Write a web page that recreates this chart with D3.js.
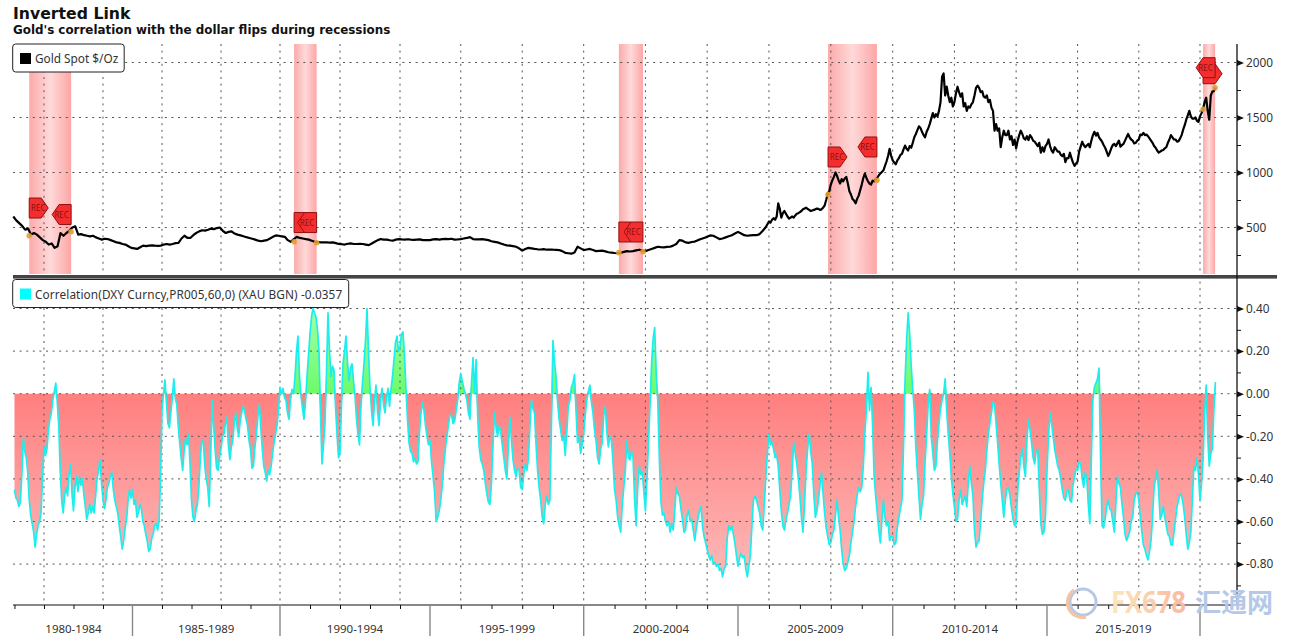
<!DOCTYPE html>
<html><head><meta charset="utf-8">
<script src="https://cdn.jsdelivr.net/npm/d3@7"></script>
<style>
html,body{margin:0;padding:0;background:#fff}
svg{display:block}
text{font-family:"Noto Sans",sans-serif;fill:#333}
</style></head><body>
<svg id="c" width="1292" height="638"></svg>
<script>
const titleText="Inverted Link";
const subtitleText="Gold's correlation with the dollar flips during recessions";
const goldLegend="Gold Spot $/Oz";
const corrLegend="Correlation(DXY Curncy,PR005,60,0) (XAU BGN) -0.0357";

// Gold, one value per 0.1 year from 1981
const gold1981=[600,565,540,515,480,490,435,450,435,410,385,370,345,355,315,330,450,425,450,470,500,510,435,440,430,425,420,425,410,400,390,398,395,385,375,365,360,350,345,330,
315,310,305,320,335,330,335,338,335,333,335,345,350,345,350,358,360,400,425,405,405,430,450,465,475,472,480,490,485,495,500,470,450,460,465,445,435,428,420,412,
405,398,390,380,375,380,385,400,415,428,425,420,415,385,370,395,415,405,400,395,390,380,370,368,365,366,365,363,365,358,350,348,345,352,355,350,350,352,350,345,
340,355,370,385,395,390,390,384,380,390,395,392,390,393,390,388,390,392,385,386];
// Gold, one value per 0.1 year from 1995
const gold1995=[385,392,395,390,395,397,395,398,390,392,395,400,405,412,395,392,392,394,390,385,375,370,365,355,345,338,335,330,325,310,290,305,315,310,305,302,300,303,298,300,
298,297,295,285,270,266,262,272,325,310,295,300,305,295,285,288,290,283,275,272,268,266,270,278,285,282,285,292,298,290,285,295,305,315,325,322,320,324,325,335,
350,385,380,365,360,368,372,385,395,405,415,428,425,410,395,400,410,420,430,445,460,445,430,425,428,430,430,440,470,505];
// Gold, one value per 0.05 year from 2006
const gold2006=[555,545,570,585,570,600,719,670,590,630,650,625,600,580,590,600,590,610,625,630,640,650,665,672,680,670,660,650,655,660,665,672,670,660,665,680,700,750,810,830];
// Gold, one value per 0.05 year from 2008
const gold2008=[890,930,960,1000,970,930,900,940,920,945,960,900,830,800,760,745,720,760,790,840,
890,950,990,950,920,900,890,925,920,940,950,975,990,1005,1020,1060,1100,1150,1215,1150,
1110,1090,1075,1110,1130,1160,1170,1210,1245,1215,1200,1240,1225,1270,1320,1350,1385,1420,1405,1370,
1340,1320,1370,1400,1440,1490,1540,1500,1530,1510,1560,1640,1870,1900,1700,1780,1700,1640,1680,1600,
1640,1720,1780,1730,1690,1720,1600,1630,1560,1600,1590,1620,1640,1700,1770,1790,1770,1730,1740,1690,
1680,1700,1640,1660,1590,1560,1380,1440,1380,1400,1230,1320,1380,1340,1340,1380,1300,1330,1250,1300,
1220,1290,1340,1380,1350,1310,1300,1330,1295,1340,1320,1290,1280,1260,1240,1270,1180,1230,1190,1240,
1260,1300,1240,1200,1180,1230,1210,1190,1190,1160,1150,1170,1095,1130,1130,1180,1130,1090,1060,1080,
1100,1190,1235,1280,1250,1230,1245,1260,1230,1290,1340,1370,1335,1360,1320,1300,1280,1250,1225,1190,
1150,1180,1220,1250,1260,1240,1265,1290,1235,1250,1260,1290,1320,1350,1320,1300,1290,1265,1270,1290,
1300,1345,1340,1360,1340,1345,1330,1310,1290,1270,1240,1225,1200,1180,1190,1200,1205,1220,1230,1270,
1300,1340,1320,1300,1300,1280,1285,1310,1340,1390,1430,1480,1520,1560,1510,1490,1490,1500,1470,1460,
1510,1540,1580,1640,1680,1560,1480,1700,1735,1740,1770];

// Correlation, one value per 0.05 year
const corr1981=[-.45,-.49,-.50,-.53,-.51,-.38,-.21,-.27,-.30,-.37,-.50,-.57,-.61,-.65,-.72,-.66,-.62,-.60,-.56,-.40,
-.25,-.29,-.26,-.17,-.12,-.09,-.03,.01,.05,-.04,-.15,-.36,-.50,-.56,-.48,-.44,-.48,-.38,-.33,-.47,
-.55,-.44,-.39,-.46,-.39,-.43,-.40,-.47,-.53,-.59,-.56,-.52,-.56,-.53,-.56,-.48,-.40,-.36,-.31,-.42,
-.50,-.54,-.50,-.44,-.42,-.39,-.37,-.45,-.50,-.53,-.56,-.62,-.67,-.73,-.69,-.63,-.59,-.50,-.45,-.49];
const corr1985=[-.45,-.52,-.50,-.58,-.56,-.52,-.54,-.60,-.62,-.66,-.69,-.74,-.73,-.68,-.66,-.62,-.61,-.64,-.60,-.40,
-.08,.00,.065,-.04,-.14,-.16,-.09,-.02,.07,-.02,-.05,-.15,-.23,-.30,-.36,-.27,-.21,-.24,-.19,-.33,
-.50,-.58,-.60,-.55,-.52,-.44,-.30,-.22,-.22,-.34,-.40,-.44,-.53,-.30,-.03,-.15,-.26,-.35,-.36,-.30,
-.26,-.20,-.19,-.14,-.11,-.24,-.31,-.25,-.22,-.14,-.09,-.16,-.20,-.13,-.09,-.06,-.08,-.12,-.15,-.22,
-.26,-.35,-.34,-.25,-.19,-.11,-.05,-.16,-.26,-.34,-.37,-.41,-.36,-.38,-.34,-.28,-.23,-.19,-.15,-.08];
const corr1990=[.03,.00,.025,-.02,-.03,-.09,-.12,-.03,.02,.00,.08,.20,.27,.08,-.01,-.07,-.12,-.04,.08,.18,
.28,.36,.40,.38,.36,.30,.20,-.10,-.33,-.24,-.14,.10,.38,.20,.08,.13,.11,-.06,-.19,-.30,
-.28,-.05,.14,.20,.27,.15,.06,.12,.14,.06,-.01,-.12,-.19,-.24,-.06,.05,.14,.25,.40,.20,
.03,-.08,-.15,-.04,.04,-.08,-.15,-.04,.025,-.05,-.09,-.02,.025,-.06,.02,.08,.16,.24,.27,.20,
.22,.28,.29,.18,.02,-.12,-.23,-.27,-.28,-.32,-.30,-.33,-.32,-.18,-.09,-.04,-.08,-.15,-.20,-.24];
const corr1995=[-.22,-.32,-.39,-.46,-.60,-.58,-.55,-.50,-.43,-.33,-.26,-.20,-.15,-.10,-.10,-.14,-.13,-.08,-.03,.05,
.095,.06,.025,.00,-.03,-.09,-.12,.05,.17,.00,.16,-.10,-.25,-.31,-.33,-.36,-.42,-.47,-.51,-.52,
-.42,-.24,-.09,-.16,-.20,-.15,-.18,-.24,-.30,-.36,-.40,-.25,-.11,-.22,-.31,-.36,-.39,-.35,-.36,-.44,
-.45,-.38,-.33,-.36,-.31,-.16,-.03,-.07,-.09,-.24,-.36,-.44,-.50,-.58,-.61,-.52,-.48,-.52,-.50,-.15,
.25,.15,.08,-.04,-.12,-.17,-.22,-.20,-.29,-.18,-.06,-.03,.03,.05,.09,-.08,-.23,-.20,-.28,-.24];
const corr2000=[-.19,-.10,-.03,.01,.04,-.04,-.09,-.17,-.22,-.30,-.33,-.26,-.23,-.10,-.06,-.18,-.25,-.20,-.22,-.32,
-.45,-.50,-.58,-.62,-.65,-.52,-.44,-.36,-.22,-.30,-.31,-.27,-.30,-.50,-.62,-.44,-.34,-.38,-.37,-.46,
-.55,-.40,-.23,-.05,.14,.26,.31,.10,-.03,-.30,-.50,-.57,-.56,-.60,-.62,-.60,-.65,-.61,-.64,-.55,
-.44,-.47,-.48,-.54,-.59,-.65,-.64,-.57,-.55,-.60,-.59,-.64,-.69,-.63,-.59,-.55,-.53,-.62,-.67,-.70,
-.73,-.76,-.78,-.76,-.80,-.79,-.81,-.80,-.83,-.82,-.86,-.82,-.81,-.68,-.62,-.64,-.62,-.66,-.70,-.76];
const corr2005=[-.81,-.77,-.75,-.77,-.76,-.82,-.86,-.81,-.76,-.62,-.50,-.48,-.50,-.53,-.56,-.62,-.64,-.52,-.39,-.28,
-.19,-.24,-.23,-.26,-.30,-.29,-.34,-.45,-.55,-.62,-.64,-.59,-.56,-.52,-.48,-.36,-.23,-.28,-.33,-.40,
-.48,-.58,-.65,-.52,-.36,-.26,-.19,-.27,-.33,-.47,-.58,-.55,-.50,-.43,-.37,-.47,-.56,-.63,-.67,-.71,
-.70,-.66,-.64,-.57,-.50,-.58,-.64,-.73,-.80,-.83,-.82,-.79,-.76,-.70,-.65,-.60,-.53,-.48,-.44,-.46,
-.44,-.34,-.19,-.08,.10,-.08,.03,-.15,-.39,-.48,-.56,-.64,-.70,-.60,-.50,-.58,-.62,-.60,-.69,-.67];
const corr2010=[-.67,-.71,-.70,-.63,-.58,-.54,-.50,-.25,.06,.25,.38,.28,.13,.02,-.08,-.25,-.37,-.48,-.59,-.52,
-.48,-.32,-.19,-.05,.02,-.20,-.28,-.36,-.34,-.22,-.14,-.07,-.03,.00,.07,-.08,-.19,-.28,-.39,-.47,
-.53,-.60,-.59,-.50,-.45,-.52,-.50,-.48,-.53,-.42,-.34,-.42,-.48,-.64,-.72,-.70,-.69,-.60,-.50,-.42,
-.36,-.27,-.19,-.14,-.09,-.04,-.05,-.14,-.23,-.33,-.42,-.50,-.58,-.50,-.45,-.44,-.48,-.54,-.59,-.62,
-.61,-.46,-.37,-.30,-.26,-.34,-.39,-.22,-.12,-.17,-.23,-.30,-.33,-.27,-.26,-.45,-.61,-.66,-.65,-.58];
const corr2015=[-.36,-.20,-.09,-.14,-.20,-.26,-.30,-.34,-.36,-.40,-.45,-.49,-.50,-.46,-.45,-.50,-.51,-.43,-.39,-.35,
-.36,-.32,-.33,-.40,-.44,-.37,-.40,-.52,-.61,-.30,-.03,.03,.05,.07,.12,-.30,-.62,-.63,-.59,-.53,
-.50,-.54,-.55,-.60,-.65,-.52,-.39,-.42,-.44,-.52,-.58,-.66,-.69,-.67,-.65,-.60,-.58,-.50,-.47,-.46,
-.50,-.58,-.65,-.71,-.73,-.76,-.78,-.74,-.69,-.58,-.44,-.40,-.36,-.46,-.59,-.57,-.53,-.58,-.62,-.66,
-.67,-.71,-.71,-.65,-.59,-.53,-.50,-.47,-.48,-.52,-.58,-.66,-.73,-.70,-.65,-.50,-.34,-.36,-.30,-.38];
const corr2020=[-.50,-.42,-.31,-.10,.04,-.20,-.34,-.28,-.26,-.08,.055];

// Recessions, decimal years
const recStart=[1981.5,1990.47,2001.14,2007.91,2020.1];
const recEnd=[1982.92,1991.22,2001.92,2009.49,2020.49];
// Flag heights in gold units
const flagStartLevel=[677,545,459,1141,1898];
const flagEndLevel=[618,545,459,1232,1953];
// A start flag's label is hidden when the end flag covers it
const startLabelShown=[true,false,false,true,false];
// Gold price at the recession start/end markers
const markStart=[425,370,272,800,1575];
const markEnd=[462,362,280,930,1770];

const goldTicks=[500,1000,1500,2000];
const goldMinor=[250,750,1250,1750];
const corrTicks=[.4,.2,0,-.2,-.4,-.6,-.8];
const corrMinor=[.3,.1,-.1,-.3,-.5,-.7,-.9];
const gridYears=[1982,1984,1986,1988,1990,1992,1994,1996,1998,2000,2002,2004,2006,2008,2010,2012,2014,2016,2018,2020];
const minorYears=[1981,1982,1983,1984,1986,1987,1988,1989,1991,1992,1993,1994,1996,1997,1998,1999,2001,2002,2003,2004,2006,2007,2008,2009,2011,2012,2013,2014,2016,2017,2018,2019,2021];
const sepYears=[1985,1990,1995,2000,2005,2010,2015,2020];
const periodLabels=["1980-1984","1985-1989","1990-1994","1995-1999","2000-2004","2005-2009","2010-2014","2015-2019"];
const periodCentres=[1983,1987.5,1992.5,1997.5,2002.5,2007.5,2012.5,2017.5];

const seq=(base,step,vals)=>vals.map((v,i)=>({t:base+i*step,v}));
const gold=[...seq(1980.96,.1,gold1981),...seq(1995,.1,gold1995),...seq(2006,.05,gold2006),...seq(2008,.05,gold2008)];
const corr=[...seq(1981,.05,corr1981),...seq(1985,.05,corr1985),...seq(1990,.05,corr1990),...seq(1995,.05,corr1995),
 ...seq(2000,.05,corr2000),...seq(2005,.05,corr2005),...seq(2010,.05,corr2010),...seq(2015,.05,corr2015),...seq(2020,.05,corr2020)];

const L=13,R=1237,T1=44,B1=274,B2=605;
const x=d3.scaleLinear()
 .domain([1980.95,1985,1990,1995,2000,2005,2010,2015,2020,2021.2])
 .range([L,132.5,280,430,583.7,738,892.7,1047,1200,R]);
const yG=d3.scaleLinear().domain([0,2000]).range([282.5,62.5]);
const yC=d3.scaleLinear().domain([0,.4]).range([393.7,308.5]);

const svg=d3.select("#c");
const defs=svg.append("defs");
const band=defs.append("linearGradient").attr("id","band");
[[0,"#fbaaaa"],[.5,"#ffd9d9"],[1,"#fda6a6"]].forEach(s=>band.append("stop").attr("offset",s[0]).attr("stop-color",s[1]));
const red=defs.append("linearGradient").attr("id","red").attr("gradientUnits","userSpaceOnUse")
 .attr("x1",0).attr("x2",0).attr("y1",yC(0)).attr("y2",yC(-.86));
[[0,"#ff7f7f"],[1,"#fdb8b8"]].forEach(s=>red.append("stop").attr("offset",s[0]).attr("stop-color",s[1]));
const green=defs.append("linearGradient").attr("id","green").attr("gradientUnits","userSpaceOnUse")
 .attr("x1",0).attr("x2",0).attr("y1",yC(0)).attr("y2",yC(.4));
[[0,"#6cfb6c"],[1,"#a4ffa4"]].forEach(s=>green.append("stop").attr("offset",s[0]).attr("stop-color",s[1]));
const wmGrad=defs.append("linearGradient").attr("id","wm");
[[0,"#fde6bd"],[1,"#f8b9a0"]].forEach(s=>wmGrad.append("stop").attr("offset",s[0]).attr("stop-color",s[1]));

// recession bands
svg.append("g").selectAll("rect").data(recStart).join("rect")
 .attr("x",d=>x(d)).attr("width",(d,i)=>x(recEnd[i])-x(d)).attr("y",T1).attr("height",B1-T1).attr("fill","url(#band)");

// correlation areas
const areaNeg=d3.area().x(d=>x(d.t)).y0(yC(0)).y1(d=>yC(Math.min(d.v,0)));
const areaPos=d3.area().x(d=>x(d.t)).y0(yC(0)).y1(d=>yC(Math.max(d.v,0)));
svg.append("path").datum(corr).attr("d",areaNeg).attr("fill","url(#red)");
svg.append("path").datum(corr).attr("d",areaPos).attr("fill","url(#green)");

// grid
const grid=svg.append("g").attr("stroke","#555").attr("stroke-width",1).attr("stroke-dasharray","2 4.6").attr("fill","none");
goldTicks.forEach(v=>grid.append("line").attr("x1",L).attr("x2",R).attr("y1",yG(v)).attr("y2",yG(v)));
corrTicks.forEach(v=>grid.append("line").attr("x1",L).attr("x2",R).attr("y1",yC(v)).attr("y2",yC(v)));
gridYears.forEach(t=>grid.append("line").attr("x1",x(t)).attr("x2",x(t)).attr("y1",T1).attr("y2",B2));

// series
svg.append("path").datum(corr).attr("fill","none").attr("stroke","#1ceeee").attr("stroke-width",1.7).attr("stroke-linejoin","round")
 .attr("d",d3.line().x(d=>x(d.t)).y(d=>yC(d.v)));
svg.append("path").datum(gold).attr("fill","none").attr("stroke","#000").attr("stroke-width",2.2).attr("stroke-linejoin","round")
 .attr("d",d3.line().x(d=>x(d.t)).y(d=>yG(d.v)));

// recession markers
const marks=svg.append("g").attr("fill","#e0a030").attr("opacity",.9);
recStart.forEach((t,i)=>{
 marks.append("circle").attr("cx",x(t)).attr("cy",yG(markStart[i])).attr("r",2.8);
 marks.append("circle").attr("cx",x(recEnd[i])).attr("cy",yG(markEnd[i])).attr("r",2.8);
});
function flag(px,py,dir,showLabel){
 const g=svg.append("g").attr("transform",`translate(${px},${py})`);
 const p=dir>0?"M0,-10H12L19,0L12,10H0Z":"M0,-10H-12L-19,0L-12,10H0Z";
 g.append("path").attr("d",p).attr("fill","#f42e2e").attr("stroke","#8e1212").attr("stroke-width",1);
 if(showLabel) g.append("text").attr("x",dir>0?9:-9.5).attr("y",3).attr("text-anchor","middle").attr("font-size",8).style("fill","#8e1010").text("REC");
}
recStart.forEach((t,i)=>{
 flag(x(t),yG(flagStartLevel[i]),1,startLabelShown[i]);
 flag(x(recEnd[i]),yG(flagEndLevel[i]),-1,true);
});

// panel separator
svg.append("rect").attr("x",L).attr("y",275).attr("width",1264).attr("height",3.6).attr("fill","#444");

// bottom axis
const axB=svg.append("g").attr("transform",`translate(0,${B2})`)
 .call(d3.axisBottom(x).tickValues(minorYears).tickSize(4).tickFormat(""));
axB.selectAll("path").remove();
axB.selectAll("line").attr("stroke","#111");
svg.append("line").attr("x1",L).attr("x2",R).attr("y1",B2).attr("y2",B2).attr("stroke","#111").attr("stroke-width",1.2);
svg.append("g").selectAll("line").data(sepYears).join("line")
 .attr("x1",d=>x(d)).attr("x2",d=>x(d)).attr("y1",B2).attr("y2",636).attr("stroke","#888").attr("stroke-width",1.4);
svg.append("g").selectAll("text").data(periodLabels).join("text")
 .attr("x",(d,i)=>x(periodCentres[i])).attr("y",633).attr("text-anchor","middle").attr("font-size",11.5).text(d=>d);

// right axes
svg.append("line").attr("x1",R).attr("x2",R).attr("y1",T1).attr("y2",B2).attr("stroke","#111").attr("stroke-width",1.3);
function rightAxis(scale,major,minor,fmt){
 const a=svg.append("g").attr("transform",`translate(${R},0)`)
  .call(d3.axisRight(scale).tickValues(major).tickSize(0).tickPadding(9).tickFormat(fmt));
 a.select("path").remove();
 a.selectAll("text").attr("font-size",11.8).attr("font-family",null).style("font-family",'"Noto Sans",sans-serif').style("fill","#333");
 a.selectAll(".tick").append("path").attr("d","M0,-3L7,0L0,3Z").attr("fill","#111");
 const m=svg.append("g").attr("transform",`translate(${R},0)`)
  .call(d3.axisRight(scale).tickValues(minor).tickSize(4).tickFormat(""));
 m.select("path").remove();
 m.selectAll("line").attr("stroke","#111");
}
rightAxis(yG,goldTicks,goldMinor,d3.format("d"));
rightAxis(yC,corrTicks,corrMinor,d=>d3.format(".2f")(d).replace("\u2212","-"));

// titles
svg.append("text").attr("x",L).attr("y",19).style("font-family",'"DejaVu Sans",sans-serif').style("font-weight",700).style("fill","#111").attr("font-size",15.7).text(titleText);
svg.append("text").attr("x",L).attr("y",34).style("font-family",'"DejaVu Sans",sans-serif').style("font-weight",700).style("fill","#111").attr("font-size",11.9).text(subtitleText);

// legends
function legend(y,w,col,txt,spacing){
 svg.append("rect").attr("x",12.7).attr("y",y).attr("width",w).attr("height",28).attr("rx",3).attr("fill","#fff").attr("stroke","#222").attr("stroke-width",1);
 svg.append("rect").attr("x",20).attr("y",y+9).attr("width",11).attr("height",11).attr("fill",col);
 svg.append("text").attr("x",35).attr("y",y+19).attr("font-size",11.8).attr("letter-spacing",spacing).text(txt);
}
legend(44,111.5,"#000",goldLegend,0);
legend(279.5,336,"#0ff",corrLegend,.1);

// watermark
const wm=svg.append("g");
wm.append("circle").attr("cx",1083).attr("cy",602).attr("r",13).attr("fill","none").attr("stroke","#b6c8e2").attr("stroke-width",3);
wm.append("path").attr("d","M1074,590A15,15 0 0 0 1086,617").attr("fill","none").attr("stroke","#f6c3a4").attr("stroke-width",3);
wm.append("text").attr("x",1111).attr("y",613).attr("textLength",75).attr("lengthAdjust","spacingAndGlyphs").style("font-family",'"Open Sans",sans-serif').style("font-weight",700).style("fill","url(#wm)").attr("font-size",31).text("FX678");
wm.append("text").attr("x",1195).attr("y",612).style("font-family",'"Noto Sans CJK SC",sans-serif').style("font-weight",700).style("fill","#b5c9e6").attr("font-size",26).text("汇通网");
</script>
</body></html>
